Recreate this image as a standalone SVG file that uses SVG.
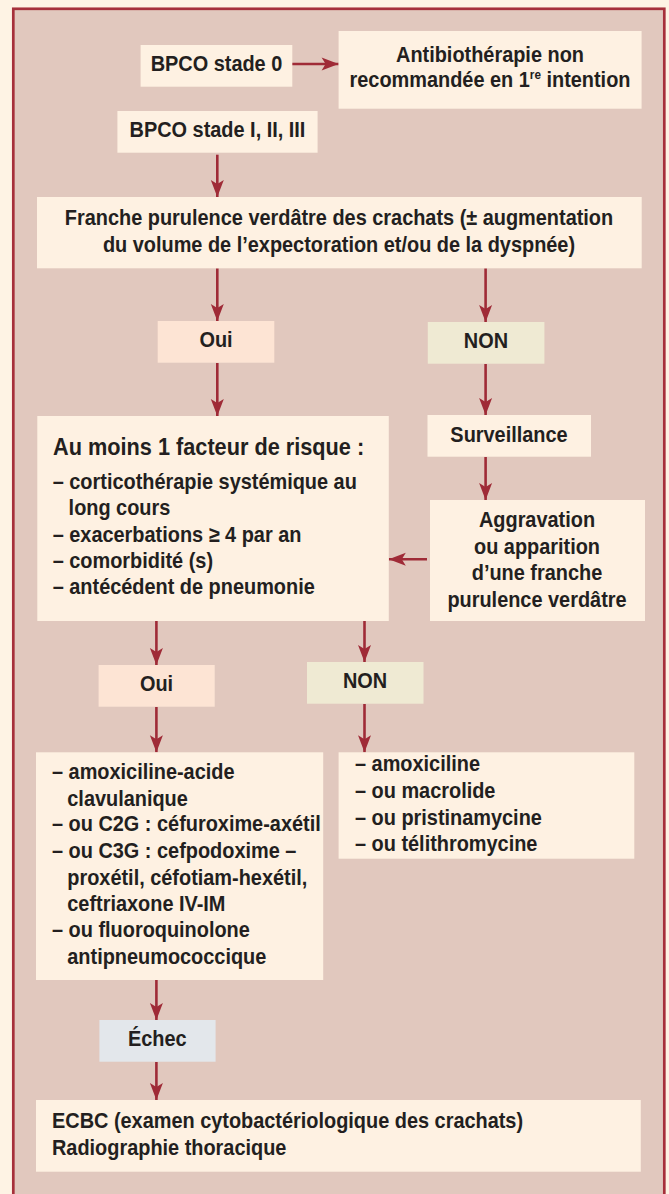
<svg xmlns="http://www.w3.org/2000/svg" width="669" height="1194" viewBox="0 0 669 1194">
<defs>
<style>
.t{font-family:"Liberation Sans",Arial,sans-serif;font-weight:bold;font-size:22px;fill:#231F20;transform-box:fill-box;transform-origin:left center;transform:scaleX(0.905)}
.c{text-anchor:middle;transform-origin:center}
.h{font-size:24px}
.box{fill:#FEF1E2}
.oui{fill:#FDE4D4}
.non{fill:#EFEAD3}
.ech{fill:#E3E7EB}
.a{stroke:#9F2B37;stroke-width:2.6;fill:none;marker-end:url(#ah)}
</style>
<marker id="ah" markerUnits="userSpaceOnUse" markerWidth="20" markerHeight="16" viewBox="0 -8 18 16" refX="17" refY="0" orient="auto">
<path d="M0,-6.5 L17,0 L0,6.5 L4,0 z" fill="#9F2B37"/>
</marker>
</defs>
<rect x="0" y="0" width="669" height="1194" fill="#FEF3E4"/>
<rect id="frame" x="13.3" y="8.8" width="651" height="1200" fill="#E1C8BE" stroke="#A6303B" stroke-width="2.7"/>

<g id="connectors">
<line class="a" x1="291.5" y1="64" x2="338.6" y2="64"/>
<line class="a" x1="217.3" y1="154.7" x2="217.3" y2="197"/>
<line class="a" x1="217.3" y1="268.3" x2="217.3" y2="321"/>
<line class="a" x1="485.6" y1="268.3" x2="485.6" y2="322"/>
<line class="a" x1="217.3" y1="363" x2="217.3" y2="416"/>
<line class="a" x1="485.6" y1="364" x2="485.6" y2="415"/>
<line class="a" x1="485.6" y1="457" x2="485.6" y2="500"/>
<line class="a" x1="427" y1="559.3" x2="388.8" y2="559.3"/>
<line class="a" x1="156.4" y1="621" x2="156.4" y2="665"/>
<line class="a" x1="364.5" y1="621" x2="364.5" y2="662"/>
<line class="a" x1="156.4" y1="707" x2="156.4" y2="752.3"/>
<line class="a" x1="364.5" y1="704" x2="364.5" y2="752.3"/>
<line class="a" x1="156.4" y1="980" x2="156.4" y2="1020"/>
<line class="a" x1="156.4" y1="1062" x2="156.4" y2="1100"/>
</g>

<g id="stade0">
<rect class="box" x="140.6" y="45" width="151.7" height="41.7"/>
<text class="t c" x="216.5" y="71.5">BPCO stade 0</text>
</g>

<g id="antibio">
<rect class="box" x="338.6" y="31" width="303" height="77.7"/>
<text class="t c" x="490" y="62.5">Antibiothérapie non</text>
<text class="t c" x="490" y="87.5">recommandée en 1<tspan font-size="13" dy="-8">re</tspan><tspan dy="8"> intention</tspan></text>
</g>

<g id="stade123">
<rect class="box" x="117.4" y="111" width="200.2" height="41.7"/>
<text class="t c" x="217.5" y="137.5">BPCO stade I, II, III</text>
</g>

<g id="franche">
<rect class="box" x="37" y="197" width="604.7" height="71.3"/>
<text class="t c" x="339" y="225.5">Franche purulence verdâtre des crachats (± augmentation</text>
<text class="t c" x="339" y="252.5">du volume de l’expectoration et/ou de la dyspnée)</text>
</g>

<g id="oui1">
<rect class="oui" x="157.7" y="321" width="116.6" height="41.7"/>
<text class="t c" x="216" y="347.3">Oui</text>
</g>

<g id="non1">
<rect class="non" x="427.8" y="322" width="116.6" height="41.7"/>
<text class="t c" x="486" y="348.5">NON</text>
</g>

<g id="facteur">
<rect class="box" x="37.3" y="416" width="351.5" height="205"/>
<text class="t h" x="53" y="455">Au moins 1 facteur de risque :</text>
<text class="t" x="52.7" y="489">– corticothérapie systémique au</text>
<text class="t" x="68.6" y="515.3">long cours</text>
<text class="t" x="52.7" y="542.3">– exacerbations ≥ 4 par an</text>
<text class="t" x="52.7" y="568.3">– comorbidité (s)</text>
<text class="t" x="52.7" y="594.3">– antécédent de pneumonie</text>
</g>

<g id="surveillance">
<rect class="box" x="427.5" y="415" width="163.5" height="41.7"/>
<text class="t c" x="509" y="442.3">Surveillance</text>
</g>

<g id="aggravation">
<rect class="box" x="430" y="500" width="215" height="121"/>
<text class="t c" x="537" y="526.6">Aggravation</text>
<text class="t c" x="537" y="554">ou apparition</text>
<text class="t c" x="537" y="579.6">d’une franche</text>
<text class="t c" x="537" y="606.6">purulence verdâtre</text>
</g>

<g id="oui2">
<rect class="oui" x="98.6" y="665" width="116.1" height="41.7"/>
<text class="t c" x="156.5" y="690.6">Oui</text>
</g>

<g id="non2">
<rect class="non" x="307" y="662" width="116.5" height="41.7"/>
<text class="t c" x="365" y="688">NON</text>
</g>

<g id="traitement-oui">
<rect class="box" x="36" y="752.3" width="287.2" height="227.7"/>
<text class="t" x="52" y="779">– amoxiciline-acide</text>
<text class="t" x="67.3" y="805.6">clavulanique</text>
<text class="t" x="52" y="831.3">– ou C2G : céfuroxime-axétil</text>
<text class="t" x="52" y="858">– ou C3G : cefpodoxime –</text>
<text class="t" x="67.3" y="884.6">proxétil, céfotiam-hexétil,</text>
<text class="t" x="67.3" y="910.6">ceftriaxone IV-IM</text>
<text class="t" x="52" y="937.3">– ou fluoroquinolone</text>
<text class="t" x="67.3" y="964">antipneumococcique</text>
</g>

<g id="traitement-non">
<rect class="box" x="338.6" y="752.3" width="295.7" height="106.4"/>
<text class="t" x="355" y="771.3">– amoxiciline</text>
<text class="t" x="355" y="798">– ou macrolide</text>
<text class="t" x="355" y="824.6">– ou pristinamycine</text>
<text class="t" x="355" y="851.3">– ou télithromycine</text>
</g>

<g id="echec">
<rect class="ech" x="99.4" y="1020" width="116.2" height="41.7"/>
<text class="t c" x="157.3" y="1045.6">Échec</text>
</g>

<g id="ecbc">
<rect class="box" x="36" y="1100" width="604.8" height="71.7"/>
<text class="t" x="52" y="1128">ECBC (examen cytobactériologique des crachats)</text>
<text class="t" x="52" y="1154.6">Radiographie thoracique</text>
</g>
</svg>
